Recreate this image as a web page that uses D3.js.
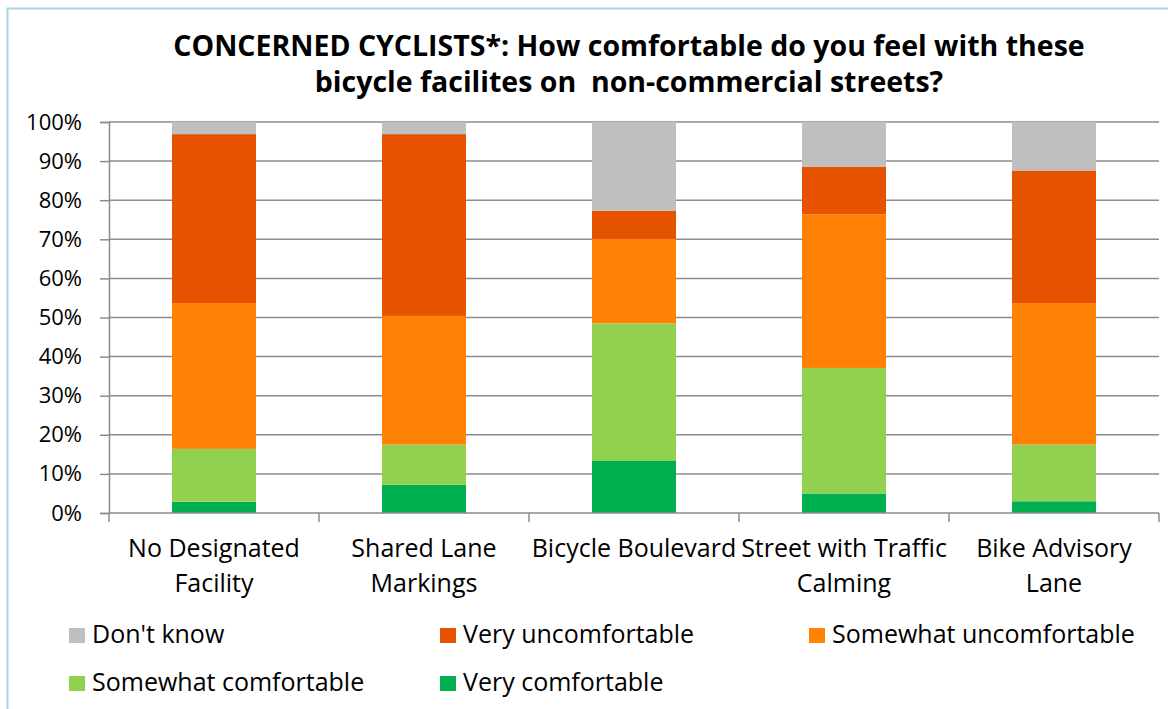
<!DOCTYPE html>
<html><head><meta charset="utf-8">
<script src="https://cdn.jsdelivr.net/npm/d3@7"></script>
<style>body{margin:0;background:#fff}svg{display:block}</style>
</head><body>
<svg id="c" width="1168" height="709"></svg>
<script>
const categories = ["No Designated Facility","Shared Lane Markings","Bicycle Boulevard","Street with Traffic Calming","Bike Advisory Lane"];
const categoryLines = [["No Designated","Facility"],["Shared Lane","Markings"],["Bicycle Boulevard"],["Street with Traffic","Calming"],["Bike Advisory","Lane"]];
const seriesNames = ["Very comfortable","Somewhat comfortable","Somewhat uncomfortable","Very uncomfortable","Don't know"];
const veryComfortable       = [2.9, 7.2, 13.3, 5.0, 3.0];
const somewhatComfortable   = [13.5, 10.3, 35.2, 32.1, 14.5];
const somewhatUncomfortable = [37.3, 32.9, 21.6, 39.3, 36.2];
const veryUncomfortable     = [43.2, 46.5, 7.2, 12.1, 33.9];
const dontKnow              = [3.1, 3.1, 22.7, 11.5, 12.4];
const colors = ["#00B050","#92D050","#FF8205","#E65300","#BFBFBF"];
const yTicks = [0,10,20,30,40,50,60,70,80,90,100];
const legendOrder = ["Don't know","Very uncomfortable","Somewhat uncomfortable","Somewhat comfortable","Very comfortable"];

const series = [veryComfortable, somewhatComfortable, somewhatUncomfortable, veryUncomfortable, dontKnow];
const rows = categories.map((c,i)=>{const r={cat:c}; seriesNames.forEach((s,j)=>r[s]=series[j][i]); return r;});
const stack = d3.stack().keys(seriesNames)(rows);

const svg = d3.select("#c");
const font = "'Open Sans', sans-serif";
const L=109, R=1159, T=122, B=513;
const x = d3.scaleBand().domain(categories).range([L,R]).paddingInner(0.6).paddingOuter(0.3);
const xb = d3.scaleBand().domain(categories).range([L,R]);
const y = d3.scaleLinear().domain([0,100]).range([B,T]);

// outer chart border
svg.append("path").attr("d","M7.5,709 V8.5 H1168").attr("fill","none").attr("stroke","#A9D2E2").attr("stroke-width",2);

// title
const title = svg.append("text").attr("text-anchor","middle").attr("font-family",font).attr("font-weight","bold").attr("font-size",28.5).attr("fill","#000").attr("style","white-space:pre");
title.append("tspan").attr("x",629).attr("y",56).text("CONCERNED CYCLISTS*: How comfortable do you feel with these");
title.append("tspan").attr("x",629).attr("y",92).text("bicycle facilites on  non-commercial streets?");

// gridlines
svg.append("g").selectAll("line").data(yTicks.slice(1)).join("line")
  .attr("x1",L).attr("x2",R).attr("y1",d=>y(d)).attr("y2",d=>y(d))
  .attr("stroke","#8C8C8C").attr("stroke-width",1.5);

// y axis
const ya = svg.append("g").attr("transform",`translate(${L},0)`).call(d3.axisLeft(y).tickValues(yTicks).tickFormat(d=>d+"%").tickSize(9).tickPadding(18));
ya.select(".domain").attr("stroke","#8C8C8C").attr("stroke-width",1.5);
ya.selectAll(".tick line").attr("stroke","#8C8C8C").attr("stroke-width",1.5);
ya.selectAll("text").attr("font-family",font).attr("font-size",22).attr("fill","#000");

// bars
svg.append("g").selectAll("g").data(stack).join("g").attr("fill",(d,i)=>colors[i])
  .selectAll("rect").data(d=>d).join("rect")
  .attr("x",d=>x(d.data.cat)).attr("width",x.bandwidth())
  .attr("y",d=>y(d[1])).attr("height",d=>y(d[0])-y(d[1]));

// x axis
const xa = svg.append("g").attr("transform",`translate(0,${B})`);
xa.append("line").attr("x1",L).attr("x2",R).attr("stroke","#8C8C8C").attr("stroke-width",1.5);
const bounds = categories.map(c=>xb(c)).concat([R]);
xa.selectAll("line.t").data(bounds).join("line").attr("class","t")
  .attr("x1",d=>d).attr("x2",d=>d).attr("y1",0).attr("y2",9).attr("stroke","#8C8C8C").attr("stroke-width",1.5);
categories.forEach((c,i)=>{
  const t = svg.append("text").attr("text-anchor","middle").attr("font-family",font).attr("font-size",25).attr("fill","#000");
  categoryLines[i].forEach((ln,k)=>t.append("tspan").attr("x",xb(c)+xb.bandwidth()/2).attr("y",557+k*35).text(ln));
});

// legend
const legPos = [[69,643],[440,643],[809,643],[69,691],[440,691]];
legendOrder.forEach((n,i)=>{
  const g = svg.append("g").attr("transform",`translate(${legPos[i][0]},${legPos[i][1]})`);
  g.append("rect").attr("x",0).attr("y",-15).attr("width",16).attr("height",15).attr("fill",colors[seriesNames.indexOf(n)]);
  g.append("text").attr("x",23).attr("y",0).attr("font-family",font).attr("font-size",25).attr("fill","#000").text(n);
});
</script>
</body></html>
